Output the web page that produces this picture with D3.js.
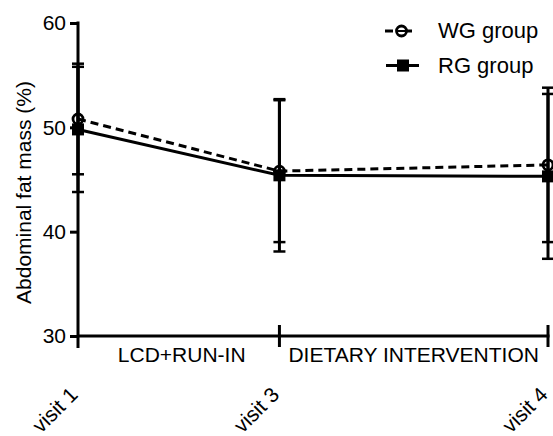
<!DOCTYPE html>
<html><head><meta charset="utf-8">
<script src="https://cdn.jsdelivr.net/npm/d3@7"></script>
<style>body{margin:0;background:#fff}svg{display:block}text{font-family:Arial,"Liberation Sans",sans-serif;fill:#000}</style>
</head><body><div id="chart"></div>
<script>
const categories = ["visit 1", "visit 3", "visit 4"];
const visitTime = [0, 3, 7];
const wgMean = [50.8, 45.8, 46.4];
const wgSD = [5.3, 6.8, 7.4];
const rgMean = [49.8, 45.4, 45.3];
const rgSD = [6.0, 7.3, 7.9];
const yTicks = [30, 40, 50, 60];
const periods = ["LCD+RUN-IN", "DIETARY INTERVENTION"];
const seriesNames = ["WG group", "RG group"];

const W = 553, H = 436;
const svg = d3.select("#chart").append("svg").attr("width", W).attr("height", H);
const x = d3.scaleLinear().domain([0, 7]).range([78, 548]);
const y = d3.scaleLinear().domain([30, 60]).range([336, 23]);

// y axis
const yAxis = svg.append("g").attr("transform", "translate(78,0)")
  .call(d3.axisLeft(y).tickValues(yTicks).tickSize(8).tickPadding(4).tickFormat(d3.format("d")));
yAxis.select(".domain").remove();
yAxis.selectAll(".tick line").attr("stroke", "#000").attr("stroke-width", 3);
yAxis.selectAll(".tick text").attr("font-size", 21).attr("font-family", "Arial, 'Liberation Sans', sans-serif");
svg.append("line").attr("x1", 78).attr("x2", 78).attr("y1", y(60) - 1.5).attr("y2", 348)
  .attr("stroke", "#000").attr("stroke-width", 3);

// x axis
svg.append("line").attr("x1", 78).attr("x2", x(7) + 1.5).attr("y1", y(30)).attr("y2", y(30))
  .attr("stroke", "#000").attr("stroke-width", 3);
svg.selectAll(".xt").data(visitTime.slice(1)).enter().append("line")
  .attr("x1", d => x(d)).attr("x2", d => x(d)).attr("y1", 325).attr("y2", 347)
  .attr("stroke", "#000").attr("stroke-width", 3);

// period labels
svg.selectAll(".period").data(periods).enter().append("text")
  .attr("x", (d, i) => (x(visitTime[i]) + x(visitTime[i + 1])) / 2 + (i === 0 ? 3 : 0))
  .attr("y", 362).attr("text-anchor", "middle").attr("font-size", 21).text(d => d);

// visit labels
svg.selectAll(".visit").data(categories).enter().append("text")
  .attr("transform", (d, i) => `translate(${x(visitTime[i]) + 1},396) rotate(-45)`)
  .attr("text-anchor", "end").attr("font-size", 21).text(d => d);

// y label
svg.append("text").attr("transform", `translate(31,${(78 + 307) / 2}) rotate(-90)`)
  .attr("text-anchor", "middle").attr("font-size", 21).text("Abdominal fat mass (%)");

const line = d3.line().x(d => x(d.t)).y(d => y(d.m));
const wg = visitTime.map((t, i) => ({ t, m: wgMean[i], s: wgSD[i] }));
const rg = visitTime.map((t, i) => ({ t, m: rgMean[i], s: rgSD[i] }));

svg.append("path").datum(rg).attr("d", line).attr("fill", "none").attr("stroke", "#000").attr("stroke-width", 3);
svg.append("path").datum(wg).attr("d", line).attr("fill", "none").attr("stroke", "#000").attr("stroke-width", 3)
  .attr("stroke-dasharray", "8,5");

// error bars
[wg, rg].forEach(ser => {
  const g = svg.append("g");
  ser.forEach(d => {
    const cx = x(d.t);
    g.append("line").attr("x1", cx).attr("x2", cx).attr("y1", y(d.m + d.s)).attr("y2", y(d.m - d.s))
      .attr("stroke", "#000").attr("stroke-width", 3);
    [d.m + d.s, d.m - d.s].forEach(v => {
      g.append("line").attr("x1", cx - 6).attr("x2", cx + 6).attr("y1", y(v)).attr("y2", y(v))
        .attr("stroke", "#000").attr("stroke-width", 2.5);
    });
  });
});

// markers
svg.selectAll(".sq").data(rg).enter().append("rect")
  .attr("x", d => x(d.t) - 6).attr("y", d => y(d.m) - 6).attr("width", 12).attr("height", 12).attr("fill", "#000");
svg.selectAll(".ci").data(wg).enter().append("circle")
  .attr("cx", d => x(d.t)).attr("cy", d => y(d.m)).attr("r", 5).attr("fill", "none")
  .attr("stroke", "#000").attr("stroke-width", 2.8);

// legend
const lg = svg.append("g");
lg.append("line").attr("x1", 385).attr("x2", 393).attr("y1", 31).attr("y2", 31).attr("stroke", "#000").attr("stroke-width", 3);
lg.append("line").attr("x1", 407).attr("x2", 412).attr("y1", 31).attr("y2", 31).attr("stroke", "#000").attr("stroke-width", 3);
lg.append("circle").attr("cx", 401.5).attr("cy", 31).attr("r", 5).attr("fill", "none").attr("stroke", "#000").attr("stroke-width", 2.8);
lg.append("line").attr("x1", 396).attr("x2", 407).attr("y1", 31).attr("y2", 31).attr("stroke", "#000").attr("stroke-width", 2);
lg.append("line").attr("x1", 386).attr("x2", 419).attr("y1", 65.5).attr("y2", 65.5).attr("stroke", "#000").attr("stroke-width", 3);
lg.append("rect").attr("x", 397).attr("y", 59.5).attr("width", 12).attr("height", 12).attr("fill", "#000");
lg.selectAll(".lt").data(seriesNames).enter().append("text")
  .attr("x", 438).attr("y", (d, i) => 38 + i * 34.5).attr("font-size", 22).text(d => d);
</script></body></html>
